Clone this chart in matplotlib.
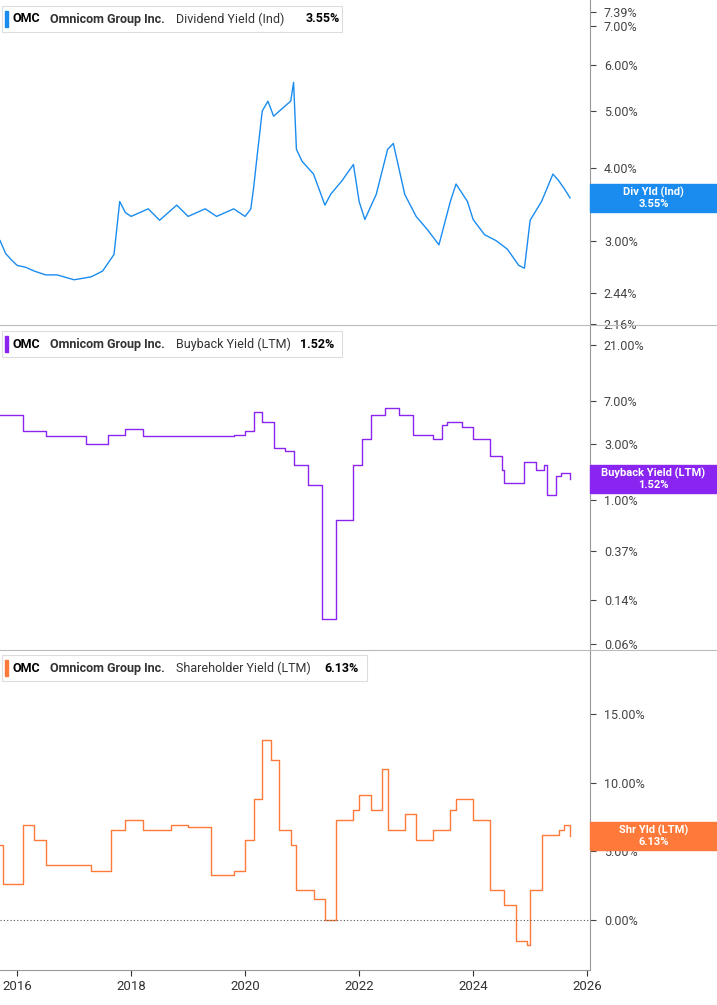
import matplotlib
matplotlib.use("Agg")
import matplotlib.pyplot as plt
from matplotlib.patches import Rectangle
from matplotlib.ticker import FixedLocator, NullLocator

plt.rcParams["font.family"] = "Roboto"

# ---- data ----
div_t = [2015.7,2015.8,2015.9,2016.0,2016.15,2016.3,2016.5,2016.7,2017.0,2017.3,2017.5,2017.7,2017.8,2017.9,2018.0,2018.3,2018.5,2018.8,2019.0,2019.3,2019.5,2019.8,2020.0,2020.1,2020.15,2020.2,2020.3,2020.4,2020.5,2020.6,2020.7,2020.8,2020.85,2020.9,2021.0,2021.2,2021.4,2021.5,2021.7,2021.9,2022.0,2022.1,2022.3,2022.5,2022.6,2022.8,2023.0,2023.2,2023.4,2023.6,2023.7,2023.9,2024.0,2024.2,2024.4,2024.6,2024.8,2024.9,2025.0,2025.2,2025.4,2025.5,2025.6,2025.7]
div_v = [3.0,2.85,2.78,2.72,2.7,2.66,2.62,2.62,2.57,2.6,2.66,2.84,3.5,3.35,3.3,3.4,3.25,3.45,3.3,3.4,3.3,3.4,3.3,3.4,3.7,4.1,5.0,5.2,4.9,5.0,5.1,5.2,5.6,4.3,4.1,3.9,3.45,3.6,3.8,4.05,3.5,3.26,3.6,4.3,4.4,3.6,3.3,3.13,2.95,3.5,3.75,3.5,3.26,3.07,3.0,2.9,2.72,2.69,3.25,3.5,3.9,3.8,3.68,3.55]

buy_t = [2015.7,2016.1,2016.5,2017.2,2017.6,2017.9,2018.2,2019.8,2020.0,2020.15,2020.3,2020.5,2020.7,2020.85,2021.1,2021.35,2021.6,2021.7,2021.9,2022.05,2022.2,2022.45,2022.7,2022.95,2023.3,2023.45,2023.55,2023.8,2024.0,2024.3,2024.5,2024.55,2024.9,2025.1,2025.25,2025.3,2025.45,2025.55,2025.7]
buy_v = [5.3,3.9,3.5,3.0,3.6,4.0,3.5,3.6,3.9,5.6,4.6,2.8,2.6,2.0,1.35,0.097,0.68,0.68,2.0,3.3,5.3,6.1,5.3,3.6,3.3,4.4,4.6,4.2,3.3,2.4,1.8,1.4,2.1,1.8,2.0,1.1,1.6,1.7,1.52]

shr_t = [2015.7,2015.75,2016.1,2016.3,2016.5,2017.3,2017.65,2017.9,2018.2,2018.7,2019.0,2019.4,2019.8,2020.0,2020.15,2020.3,2020.45,2020.6,2020.8,2020.9,2021.2,2021.4,2021.6,2021.9,2022.0,2022.2,2022.4,2022.5,2022.8,2023.0,2023.3,2023.6,2023.7,2024.0,2024.3,2024.55,2024.75,2024.95,2025.0,2025.2,2025.5,2025.6,2025.7]
shr_v = [5.5,2.6,6.9,5.8,4.0,3.6,6.6,7.3,6.6,6.9,6.8,3.3,3.6,5.8,8.8,13.1,11.7,6.6,5.5,2.2,1.5,0.0,7.3,8.0,9.1,8.0,11.0,6.6,7.7,5.8,6.6,8.0,8.8,7.3,2.2,1.1,-1.5,-1.8,2.2,6.2,6.6,6.9,6.13]

div_ticks = [7.39,7.00,6.00,5.00,4.00,3.00,2.44,2.16]
buy_ticks = [21.0,7.0,3.0,1.0,0.37,0.14,0.06]
shr_ticks = [15.0,10.0,5.0,0.0]
year_ticks = [2016,2018,2020,2022,2024,2026]

W, H = 717, 1005
fig = plt.figure(figsize=(W/100, H/100), dpi=100)
R = 590/W
ax1 = fig.add_axes([0, 1-325/H, R, 325/H])
ax2 = fig.add_axes([0, 1-650/H, R, 325/H])
ax3 = fig.add_axes([0, 35/H, R, (650-35)/H - 0*1 - (650-35-320)/H])

blue, purple, orange = "#1a8cf0", "#8a24f0", "#ff7a3a"
ax1.plot(div_t, div_v, color=blue, lw=1)
ax1.set_yscale("log"); ax1.set_ylim(2.15, 7.75)
ax2.plot(buy_t, buy_v, color=purple, lw=1, drawstyle="steps-post")
ax2.set_yscale("log"); ax2.set_ylim(0.053, 31)
ax3.plot(shr_t, shr_v, color=orange, lw=1, drawstyle="steps-post")
ax3.set_ylim(-3.65, 19.7)
ax3.axhline(0, color="#555555", lw=0.8, ls=(0, (1, 2)))

for ax, ticks in [(ax1, div_ticks), (ax2, buy_ticks), (ax3, shr_ticks)]:
    ax.set_xlim(2015.7, 2026.05)
    ax.yaxis.tick_right()
    ax.yaxis.set_major_locator(FixedLocator(ticks))
    ax.yaxis.set_minor_locator(NullLocator())
    ax.set_yticklabels([f"{t:.2f}%" for t in ticks])
    ax.tick_params(axis="y", labelsize=9, colors="#444444", length=4, pad=6)
    for s in ["top", "left", "bottom"]:
        ax.spines[s].set_visible(False)
    ax.spines["right"].set_color("#999999")
    ax.set_facecolor("none")
for ax in (ax1, ax2):
    ax.set_xticks([])
ax3.set_xticks(year_ticks)
ax3.set_xticklabels([str(y) for y in year_ticks])
ax3.tick_params(axis="x", labelsize=9.5, colors="#333333", length=4)
ax3.spines["bottom"].set_visible(True); ax3.spines["bottom"].set_color("#999999")

for yy in (325, 650):
    fig.add_artist(plt.Line2D([0, 1], [1-yy/H]*2, color="#bbbbbb", lw=0.8))

fig.canvas.draw()
def tag(ax, val, text, color, hh=28):
    yd = ax.transData.transform((0, val))[1]
    fig.add_artist(Rectangle((R, (yd-hh/2)/H), 1-R, hh/H, transform=fig.transFigure, color=color, zorder=5))
    fig.text((R+1)/2, yd/H, text, ha="center", va="center", color="white", fontsize=8, fontweight="bold", zorder=6, linespacing=1.1)
tag(ax1, 3.55, "Div Yld (Ind)\n3.55%", blue)
tag(ax2, 1.52, "Buyback Yield (LTM)\n1.52%", purple)
tag(ax3, 6.13, "Shr Yld (LTM)\n6.13%", orange)

def legend(ytop, label, val, color, width):
    y = 1-(ytop+16)/H
    fig.add_artist(Rectangle((2/W, 1-(ytop+29)/H), width/W, 26/H, transform=fig.transFigure,
                             facecolor="white", edgecolor="#dddddd", lw=0.8, zorder=5))
    fig.add_artist(Rectangle((5/W, 1-(ytop+24)/H), 3/W, 16/H, transform=fig.transFigure, color=color, zorder=6))
    fig.text(13/W, y, "OMC", fontsize=9, fontweight="bold", va="center", zorder=7)
    fig.text(50/W, y, "Omnicom Group Inc.", fontsize=9, fontweight="bold", color="#333333", va="center", zorder=7)
    fig.text(176/W, y, label, fontsize=9, color="#333333", va="center", zorder=7)
    fig.text((176+len(label)*6.1+8)/W, y, val, fontsize=9, fontweight="bold", va="center", zorder=7)
legend(3, "Dividend Yield (Ind)", "3.55%", blue, 340)
legend(328, "Buyback Yield (LTM)", "1.52%", purple, 340)
legend(652, "Shareholder Yield (LTM)", "6.13%", orange, 365)

fig.savefig("out.png", dpi=100)
